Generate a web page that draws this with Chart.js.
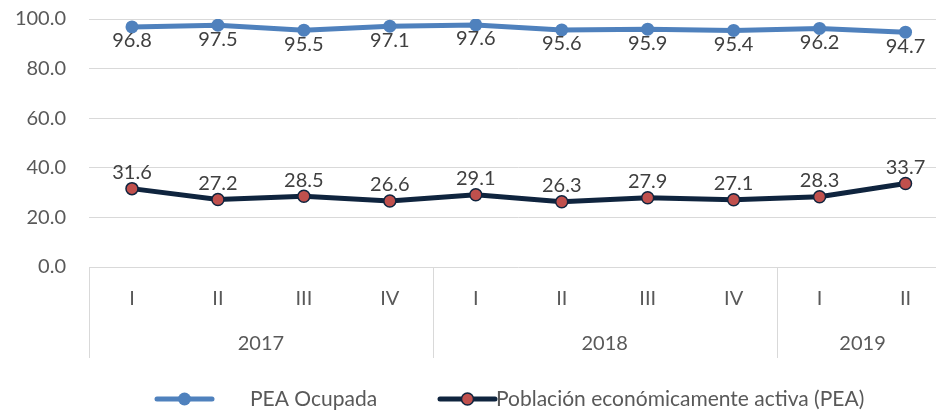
<!DOCTYPE html>
<html>
<head>
<meta charset="utf-8">
<script src="https://cdn.jsdelivr.net/npm/chart.js@4/dist/chart.umd.min.js"></script>
<style>
  html, body { margin: 0; padding: 0; background: #fff; overflow: hidden; }
  #wrap { width: 936px; height: 411px; overflow: hidden; }
  #wrap div { width: 956px; height: 411px; }
</style>
</head>
<body>
<div id="wrap"><div><canvas id="chartLine"></canvas></div></div>
<script>
const quarters = ["I", "II", "III", "IV", "I", "II", "III", "IV", "I", "II"];
const years = ["2017", "2018", "2019"];
const yearSizes = [4, 4, 2];
const peaOcupada = [96.8, 97.5, 95.5, 97.1, 97.6, 95.6, 95.9, 95.4, 96.2, 94.7];
const pea = [31.6, 27.2, 28.5, 26.6, 29.1, 26.3, 27.9, 27.1, 28.3, 33.7];

const font = "Lato, 'Liberation Sans', sans-serif";

const valueLabels = {
  id: "valueLabels",
  afterDatasetsDraw(chart) {
    const ctx = chart.ctx;
    ctx.save();
    ctx.font = "20px " + font;
    ctx.fillStyle = "#404040";
    ctx.textAlign = "center";
    ctx.textBaseline = "middle";
    chart.data.datasets.forEach((ds, i) => {
      const off = i === 0 ? 14 : -16;
      chart.getDatasetMeta(i).data.forEach((pt, j) => {
        ctx.fillText(ds.data[j].toFixed(1), pt.x, pt.y + off);
      });
    });
    ctx.restore();
  }
};

const yearAxis = {
  id: "yearAxis",
  afterDraw(chart) {
    const ctx = chart.ctx;
    const x = chart.scales.x;
    const half = (x.getPixelForValue(1) - x.getPixelForValue(0)) / 2;
    const top = chart.chartArea.bottom;
    ctx.save();
    ctx.strokeStyle = "#d9d9d9";
    ctx.lineWidth = 1;
    ctx.font = "20px " + font;
    ctx.fillStyle = "#595959";
    ctx.textAlign = "center";
    ctx.textBaseline = "middle";
    let start = 0;
    years.forEach((y, k) => {
      const end = start + yearSizes[k] - 1;
      const x0 = x.getPixelForValue(start) - half;
      const x1 = x.getPixelForValue(end) + half;
      [x0, x1].forEach(px => {
        ctx.beginPath();
        ctx.moveTo(Math.round(px) + 0.5, top);
        ctx.lineTo(Math.round(px) + 0.5, 358);
        ctx.stroke();
      });
      ctx.fillText(y, (x0 + x1) / 2, 344);
      start = end + 1;
    });
    ctx.restore();
  }
};

// legend drawn like the Excel one: line with a dot, then the name
const lineLegend = {
  id: "lineLegend",
  afterDraw(chart) {
    const ctx = chart.ctx;
    const items = [{ x: 157, tx: 250 }, { x: 440, tx: 496 }];
    const y = 399;
    ctx.save();
    ctx.font = "21px " + font;
    ctx.textBaseline = "middle";
    chart.data.datasets.forEach((ds, i) => {
      const it = items[i];
      ctx.strokeStyle = ds.borderColor;
      ctx.lineWidth = 5;
      ctx.lineCap = "round";
      ctx.beginPath(); ctx.moveTo(it.x, y); ctx.lineTo(it.x + 55, y); ctx.stroke();
      ctx.beginPath(); ctx.arc(it.x + 27.5, y, ds.pointRadius, 0, Math.PI * 2);
      ctx.fillStyle = ds.pointBackgroundColor; ctx.fill();
      if (ds.pointBorderWidth) {
        ctx.lineWidth = ds.pointBorderWidth; ctx.strokeStyle = ds.pointBorderColor; ctx.stroke();
      }
      ctx.fillStyle = "#595959";
      ctx.fillText(ds.label, it.tx, y);
    });
    ctx.restore();
  }
};

new Chart(document.getElementById("chartLine"), {
  type: "line",
  data: {
    labels: quarters,
    datasets: [
      {
        label: "PEA Ocupada",
        data: peaOcupada,
        borderColor: "#4f81bd",
        backgroundColor: "#4f81bd",
        borderWidth: 5,
        pointRadius: 6.5,
        pointBorderWidth: 0,
        pointBackgroundColor: "#4f81bd",
        tension: 0
      },
      {
        label: "Población económicamente activa (PEA)",
        data: pea,
        borderColor: "#0f243e",
        backgroundColor: "#c0504d",
        borderWidth: 5,
        pointRadius: 6,
        pointBorderWidth: 1.5,
        pointBorderColor: "#0f243e",
        pointBackgroundColor: "#c0504d",
        tension: 0
      }
    ]
  },
  options: {
    responsive: true,
    maintainAspectRatio: false,
    animation: false,
    layout: { padding: { top: 19, right: 0, bottom: 26, left: 0 } },
    scales: {
      y: {
        min: 0,
        max: 100,
        ticks: {
          stepSize: 20,
          padding: 23,
          color: "#595959",
          font: { family: font, size: 20 },
          callback: v => v.toFixed(1)
        },
        grid: { color: "#d9d9d9", lineWidth: 1, drawTicks: false },
        border: { display: false },
        afterFit: s => { s.width = 89; s.paddingTop = 0; s.paddingBottom = 0; }
      },
      x: {
        offset: true,
        ticks: {
          padding: 12,
          color: "#595959",
          font: { family: font, size: 20 },
          maxRotation: 0,
          autoSkip: false
        },
        grid: { display: false },
        border: { display: false },
        afterFit: s => { s.height = 118; }
      }
    },
    plugins: {
      tooltip: { enabled: false },
      legend: { display: false }
    }
  },
  plugins: [valueLabels, yearAxis, lineLegend]
});
</script>
</body>
</html>
